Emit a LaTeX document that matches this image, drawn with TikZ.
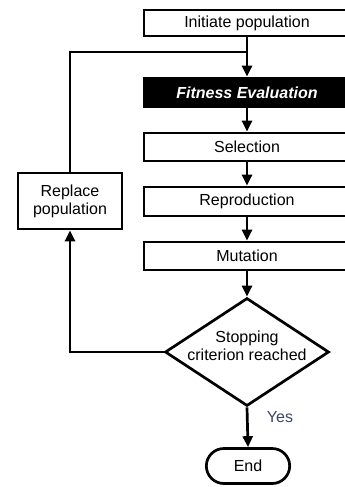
\documentclass[tikz,border=0pt]{standalone}
\usepackage{fontspec}
\setmainfont{Liberation Sans}
\usepackage{tikz}
\usetikzlibrary{arrows.meta,calc,positioning,shapes.geometric,shapes.misc}

\begin{document}
\begin{tikzpicture}[x=1pt,y=-1pt,line width=2.7pt,
		txt/.style={font=\fontsize{16}{18}\selectfont},
		box/.style={draw,txt,minimum width=206pt,minimum height=28pt,inner sep=0pt},
		arr/.style={-{Triangle[length=11pt,width=10pt]}}]
		\useasboundingbox (0,0) rectangle (345,487);
		\clip (0,0) rectangle (345,487);
		\node[box,minimum height=26pt] (init) at (247,23) {Initiate population};
		\node[box,fill=black,text=white,minimum height=29pt] (eval) at (247,92.5) {\bfseries\itshape Fitness Evaluation};
		\node[box] (sel) at (247,147) {Selection};
		\node[box,minimum height=29pt] (repro) at (247,201.5) {Reproduction};
		\node[box] (mut) at (247,256) {Mutation};
		\node[draw,txt,diamond,aspect=1.52,inner sep=-6pt,text depth=12pt,minimum width=164pt,minimum height=108pt,align=center] (stop) at (247,352) {Stopping\\criterion reached};
		\node[draw,txt,minimum width=104pt,minimum height=56pt,align=center] (repl) at (70,201) {Replace\\population};
		\node[draw,txt,rounded rectangle,minimum width=90pt,minimum height=35pt] (end) at (248,466) {End};
		\coordinate (join) at (247,52);
		\draw[arr] (init) -- (eval);
		\draw (repl.north) |- (join);
		\draw[arr] (eval) -- (sel);
		\draw[arr] (sel) -- (repro);
		\draw[arr] (repro) -- (mut);
		\draw[arr] (mut) -- (stop);
		\draw[arr] (stop.west) -| (repl.south);
		\draw[arr] (stop.south) -- node[pos=0.25,right=15pt,txt,text={rgb,255:red,58;green,70;blue,100}] {Yes} (end.north);
\end{tikzpicture}
\end{document}
